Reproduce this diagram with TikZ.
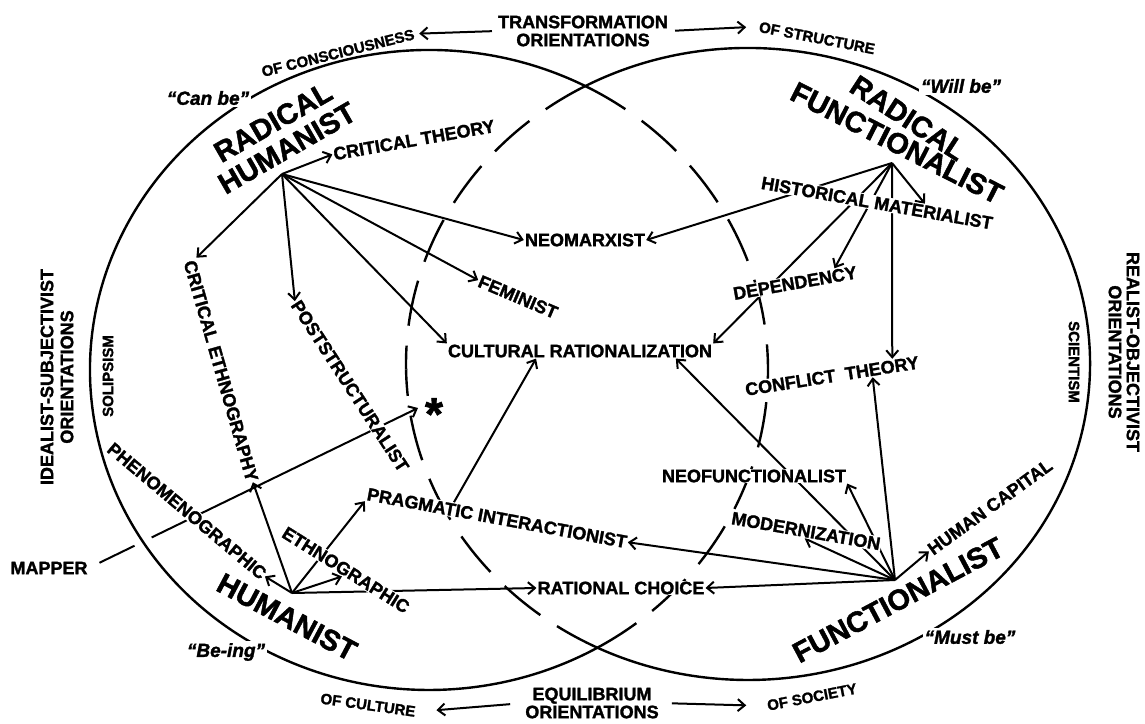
\documentclass[tikz,border=0pt]{standalone}
\usepackage{fontspec}
\setmainfont{Liberation Sans}[BoldFeatures={FakeBold=1.6}, BoldItalicFeatures={FakeBold=1.6}]
\usetikzlibrary{arrows.meta,calc}
\pgfdeclarelayer{bg}
\pgfsetlayers{bg,main}
\begin{document}
\begin{tikzpicture}[x=1pt,y=-1pt,
  lbl/.style={font=\bfseries\fontsize{18}{18}\selectfont, fill=white, inner sep=1pt},
  big/.style={font=\bfseries\fontsize{29}{29}\selectfont, inner sep=0pt},
  quot/.style={font=\bfseries\itshape\fontsize{19}{19}\selectfont, fill=white, inner sep=2pt},
  small/.style={font=\bfseries\fontsize{15}{15}\selectfont, inner sep=1pt},
  orient/.style={font=\bfseries\fontsize{18}{18}\selectfont, align=center, inner sep=1pt},
  sideorient/.style={font=\bfseries\fontsize{18}{20}\selectfont, align=center, inner sep=1pt},
  arr/.style={line width=2pt, -{Straight Barb[length=7pt,width=12pt]}},
  solidarc/.style={line width=2.4pt},
  dasharc/.style={line width=2.4pt, dash pattern=on 46pt off 20pt}]
\useasboundingbox (0,0) rectangle (1145,723);

% hubs
\coordinate (rh) at (282,174);
\coordinate (rf) at (892,163);
\coordinate (hh) at (292,593);
\coordinate (ff) at (895,580);
\coordinate (starpt) at (418,408);

% orientation labels
\node[orient] (trans) at (583,31) {TRANSFORMATION\\ORIENTATIONS};
\node[orient] (eq) at (592,703) {EQUILIBRIUM\\ORIENTATIONS};
\node[sideorient, rotate=90] (idealist) at (57,377) {IDEALIST-SUBJECTIVIST\\ORIENTATIONS};
\node[orient, rotate=-90] (realist) at (1124,352) {REALIST-OBJECTIVIST\\ORIENTATIONS};
\node[small, rotate=90] (solip) at (108,376) {SOLIPSISM};
\node[small, rotate=-90] (scien) at (1074,362) {SCIENTISM};
\node[small, rotate=14] (ofcons) at (338,53) {OF CONSCIOUSNESS};
\node[small, rotate=-11] (ofstruct) at (817,38) {OF STRUCTURE};
\node[small, rotate=-8] (ofcult) at (368,705) {OF CULTURE};
\node[small, rotate=11] (ofsoc) at (812,697) {OF SOCIETY};
\node[lbl] (mapper) at (49,568) {MAPPER};

% paradigm titles
\node[big, rotate=30] (rhA) at (273,122) {RADICAL};
\node[big, rotate=30] (rhB) at (287,148) {HUMANIST};
\node[big, rotate=-33] (rfA) at (908,118) {RADICAL};
\node[big, rotate=-27] (rfB) at (897,143) {FUNCTIONALIST};
\node[big, rotate=-28] (hA) at (287,617) {HUMANIST};
\node[big, rotate=28] (fA) at (898,600) {FUNCTIONALIST};

% quotes
\node[quot] (canbe) at (208,98) {“Can be”};
\node[quot] (willbe) at (961,86) {“Will be”};
\node[quot] (being) at (226,652) {“Be-ing”};
\node[quot] (mustbe) at (970,637) {“Must be”};

% inner labels
\node[lbl, rotate=10] (crit) at (414,140) {CRITICAL THEORY};
\node[lbl, rotate=-74] (critethno) at (221,371) {CRITICAL ETHNOGRAPHY};
\node[lbl, rotate=-57] (post) at (350,386) {POSTSTRUCTURALIST};
\node[lbl, rotate=-23] (fem) at (518,297) {FEMINIST};
\node[lbl] (neo) at (585,240) {NEOMARXIST};
\node[lbl] (cr) at (580,351) {CULTURAL RATIONALIZATION};
\node[lbl, rotate=-10] (hm) at (877,203) {HISTORICAL MATERIALIST};
\node[lbl, rotate=10] (dep) at (795,283) {DEPENDENCY};
\node[lbl, rotate=9] (ct) at (832,376) {CONFLICT\ \ THEORY};
\node[lbl] (neof) at (754,476) {NEOFUNCTIONALIST};
\node[lbl, rotate=-10] (mod) at (806,531) {MODERNIZATION};
\node[lbl, rotate=36] (hc) at (990,507) {HUMAN CAPITAL};
\node[lbl, rotate=-10.5] (pi) at (497,518) {PRAGMATIC INTERACTIONIST};
\node[lbl] (rc) at (621,588) {RATIONAL CHOICE};
\node[lbl, rotate=-32] (ethno) at (346,570) {ETHNOGRAPHIC};
\node[lbl, rotate=-40] (phen) at (187,511) {PHENOMENOGRAPHIC};
\node[font=\bfseries\fontsize{46}{46}\selectfont, inner sep=0pt] (star) at (434,414) {*};

\begin{pgfonlayer}{bg}
\fill[white] (0,0) rectangle (1145,723);
% left circle (solid outer part, dashed inner part)
\draw[solidarc] ([shift={(62.5:339pt and 320pt)}]429,370) arc[start angle=62.5, end angle=299.8, x radius=339pt, y radius=320pt];
\draw[dasharc] ([shift={(62.5:339pt and 320pt)}]429,370) arc[start angle=62.5, end angle=0, x radius=339pt, y radius=320pt];
\draw[dasharc] ([shift={(-60.2:339pt and 320pt)}]429,370) arc[start angle=-60.2, end angle=0, x radius=339pt, y radius=320pt];
% right circle
\draw[solidarc] ([shift={(118.4:342pt and 316pt)}]748,364) arc[start angle=118.4, end angle=-116.1, x radius=342pt, y radius=316pt];
\draw[dasharc] ([shift={(118.4:342pt and 316pt)}]748,364) arc[start angle=118.4, end angle=181, x radius=342pt, y radius=316pt];
\draw[dasharc] ([shift={(243.9:342pt and 316pt)}]748,364) arc[start angle=243.9, end angle=181, x radius=342pt, y radius=316pt];

% orientation arrows
\draw[arr, shorten <=5pt, shorten >=4pt] (trans.west) -- (ofcons.east);
\draw[arr, shorten <=6pt, shorten >=12pt] (trans.east) -- (ofstruct.west);
\draw[arr, shorten <=14pt, shorten >=20pt] (eq.west) -- (ofcult.east);
\draw[arr, shorten <=12pt, shorten >=20pt] (eq.east) -- (ofsoc.west);

% mapper
\draw[arr, shorten <=12pt, dash pattern=on 39pt off 19pt on 600pt] (mapper.east) -- (starpt);

% radical humanist
\draw[arr] (rh) -- (crit.west);
\draw[arr] (rh) -- (critethno.north west);
\draw[arr] (rh) -- (post.west);
\draw[arr] (rh) -- (fem.west);
\draw[arr] (rh) -- (cr.north west);
\draw[arr] (rh) -- (neo.west);

% radical functionalist
\draw[arr] (rf) -- (neo.east);
\draw[arr] (rf) -- (cr.north east);
\draw[arr] (rf) -- ($(dep.north)!0.65!(dep.north east)$);
\draw[arr] (rf) -- ($(ct.north)!0.7!(ct.north east)$);
\draw[arr] (rf) -- ($(hm.north)!0.4!(hm.north east)$);

% functionalist
\draw[arr] (ff) -- (hc.west);
\draw[arr] (ff) -- ($(ct.south)!0.45!(ct.south east)$);
\draw[arr] (ff) -- (neof.south east);
\draw[arr] (ff) -- ($(cr.south)!0.72!(cr.south east)$);
\draw[arr] (ff) -- (mod.south);
\draw[arr] (ff) -- (pi.east);
\draw[arr] (ff) -- (rc.east);

% humanist
\draw[arr] (hh) -- (phen.east);
\draw[arr] (hh) -- (critethno.east);
\draw[arr] (hh) -- (ethno.south);
\draw[arr] (hh) -- (pi.south west);
\draw[arr] (hh) -- (rc.west);

% pragmatic -> cultural rationalization
\draw[arr] ($(pi.north west)!0.33!(pi.north east)$) -- ($(cr.south west)!0.67!(cr.south)$);
\end{pgfonlayer}
\end{tikzpicture}
\end{document}
